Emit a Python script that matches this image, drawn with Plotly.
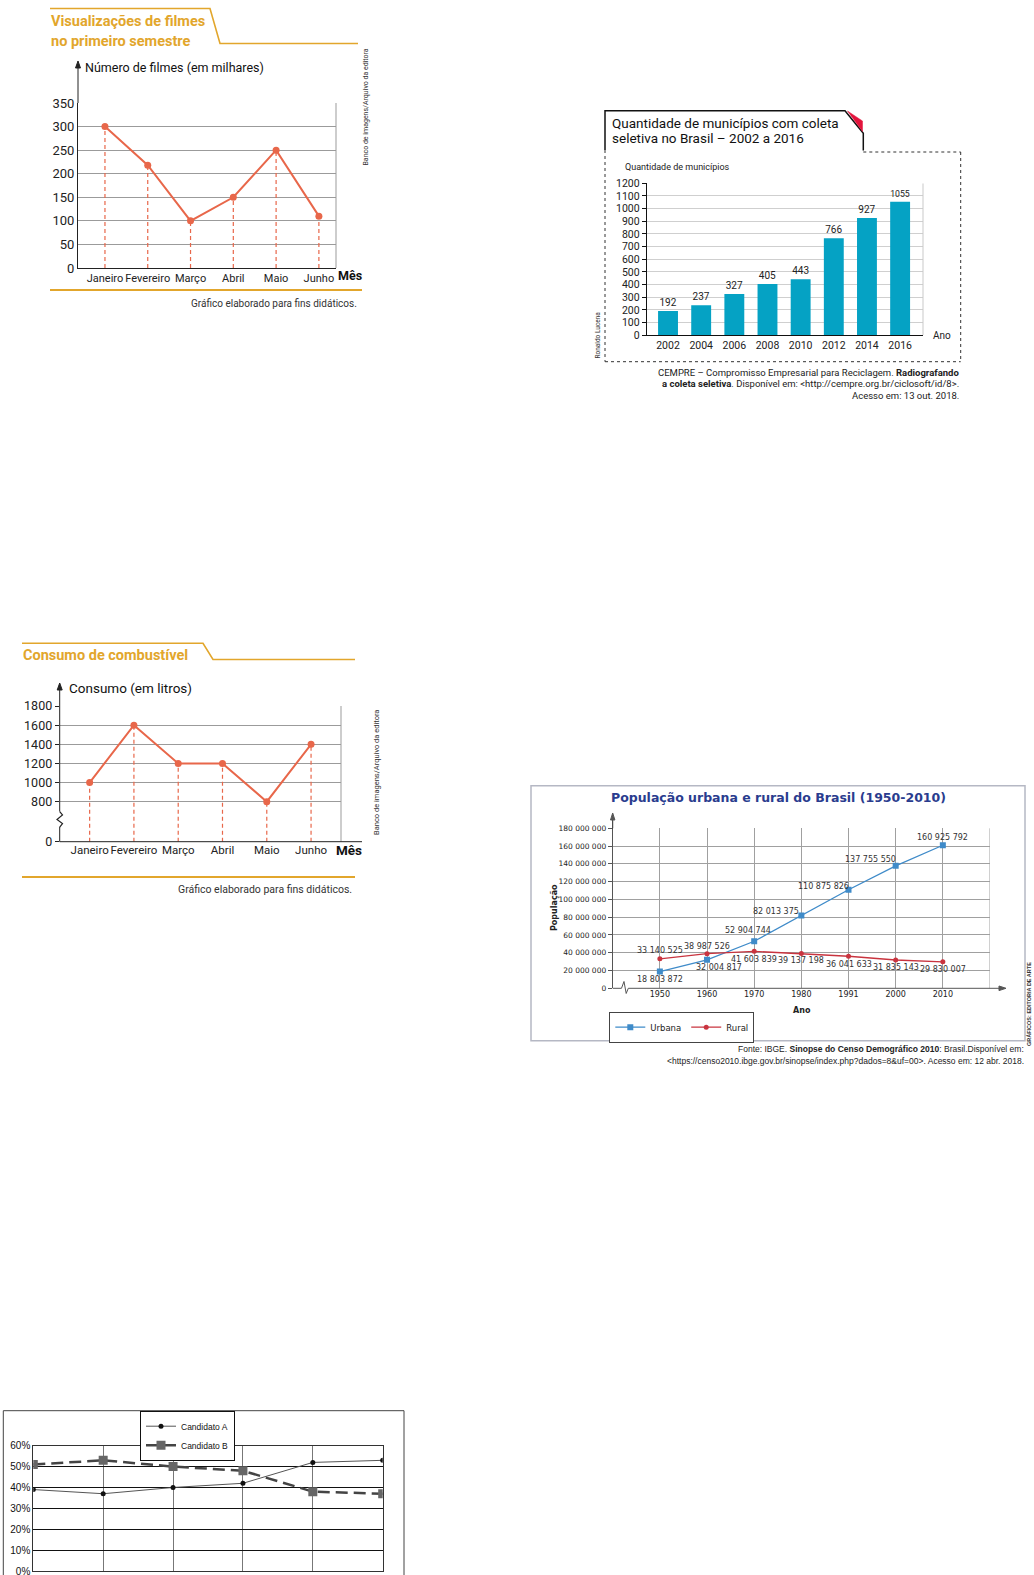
import plotly.graph_objects as go

W, H = 1034, 1575


def fx(px):
    return px / W


def fy(py):
    return 1 - py / H


# ---------------- data ----------------
# Chart 1: Visualizações de filmes no primeiro semestre
meses = ["Janeiro", "Fevereiro", "Março", "Abril", "Maio", "Junho"]
filmes_milhares = [300, 218, 100, 150, 250, 110]

# Chart 2: Quantidade de municípios com coleta seletiva
anos_coleta = ["2002", "2004", "2006", "2008", "2010", "2012", "2014", "2016"]
municipios = [192, 237, 327, 405, 443, 766, 927, 1055]

# Chart 3: Consumo de combustível
consumo_litros = [1000, 1600, 1200, 1200, 800, 1400]
consumo_ticks = [800, 1000, 1200, 1400, 1600, 1800]

# Chart 4: População urbana e rural do Brasil
anos_censo = ["1950", "1960", "1970", "1980", "1991", "2000", "2010"]
pop_urbana = [18803872, 32004817, 52904744, 82013375, 110875826, 137755550, 160925792]
pop_rural = [33140525, 38987526, 41603839, 39137198, 36041633, 31835143, 29830007]

# Chart 5: Candidatos
cand_a = [0.39, 0.37, 0.40, 0.42, 0.52, 0.53]
cand_b = [0.51, 0.53, 0.50, 0.48, 0.38, 0.37]

# ---------------- style ----------------
GOLD = "#E2A62C"
ORANGE = "#E8674A"
TEAL = "#05A2C4"
BLUE = "#3F8BC9"
RED = "#C9343F"
NAVY = "#2A3C8E"
F1 = "Roboto"
F4 = "DejaVu Sans"
F5 = "Liberation Sans"

shapes = []
annotations = []


def pline(x0, y0, x1, y1, color="#222", width=1, dash=None):
    ln = dict(color=color, width=width)
    if dash:
        ln["dash"] = dash
    shapes.append(dict(type="line", xref="paper", yref="paper",
                       x0=fx(x0), y0=fy(y0), x1=fx(x1), y1=fy(y1), line=ln))


def ppath(pts, color="#222", width=1, fill=None, closed=False):
    p = "M " + " L ".join(f"{fx(x):.5f},{fy(y):.5f}" for x, y in pts)
    if closed:
        p += " Z"
    d = dict(type="path", xref="paper", yref="paper", path=p,
             line=dict(color=color, width=width))
    if fill:
        d["fillcolor"] = fill
    shapes.append(d)


def txt(s, x, y, size, color="#222", family=F1, xanchor="center",
        yanchor="middle", angle=0):
    annotations.append(dict(text=s, x=fx(x), y=fy(y), xref="paper", yref="paper",
                            showarrow=False, xanchor=xanchor, yanchor=yanchor,
                            textangle=angle, borderpad=0,
                            font=dict(family=family, size=size, color=color)))


def drops(cats, vals, base):
    xs, ys = [], []
    for c, v in zip(cats, vals):
        xs += [c, c, None]
        ys += [base, v, None]
    return xs, ys


fig = go.Figure()

# ================= Chart 1 =================
dx, dy = drops(meses, filmes_milhares, 0)
fig.add_trace(go.Scatter(x=dx, y=dy, mode="lines", xaxis="x", yaxis="y",
                         line=dict(color=ORANGE, width=1.2, dash="4px,3px"),
                         showlegend=False, hoverinfo="skip"))
fig.add_trace(go.Scatter(x=meses, y=filmes_milhares, mode="lines+markers",
                         xaxis="x", yaxis="y", showlegend=False,
                         line=dict(color=ORANGE, width=2),
                         marker=dict(color=ORANGE, size=7)))
shapes.append(dict(type="line", xref="x domain", yref="y", x0=1, x1=1, y0=0, y1=350,
                   line=dict(color="#9b9b9b", width=1)))
pline(78, 103, 78, 66)
ppath([(78, 61), (75.5, 68), (80.5, 68)], fill="#222", closed=True)
ppath([(50, 8.5), (210, 8.5), (220, 43.5), (358, 43.5)], color=GOLD, width=1.6)
pline(50, 290, 362, 290, color=GOLD, width=2)
txt("<b>Visualizações de filmes</b>", 50, 22, 14.5, GOLD, xanchor="left")
txt("<b>no primeiro semestre</b>", 50, 41.5, 14.5, GOLD, xanchor="left")
txt("Número de filmes (em milhares)", 84, 67, 12.5, "#111", xanchor="left")
txt("<b>Mês</b>", 350, 275, 12.5, "#111")
txt("Gráfico elaborado para fins didáticos.", 358, 303.5, 10, "#333", xanchor="right")
txt("Banco de imagens/Arquivo da editora", 365.5, 107, 7, "#333", angle=-90)

# ================= Chart 2 =================
fig.add_trace(go.Bar(x=anos_coleta, y=municipios, xaxis="x2", yaxis="y2",
                     marker=dict(color=TEAL, line=dict(width=0)), width=0.6,
                     text=[str(v) for v in municipios], textposition="outside",
                     textfont=dict(family=F1, size=10, color="#222"),
                     cliponaxis=False, showlegend=False))
shapes.append(dict(type="line", xref="x2 domain", yref="y2", x0=1, x1=1, y0=0, y1=1200,
                   line=dict(color="#c9c9c9", width=1)))
ppath([(605, 150), (605, 110.7), (845, 110.7), (863.3, 133.3), (863.3, 150.5)],
      color="#111", width=1.5)
ppath([(847.5, 111), (862.5, 121), (862.5, 131.5)], color="#E3143C", width=0.5,
      fill="#E3143C", closed=True)
pline(605, 150, 605, 361.7, color="#333", width=1, dash="dot")
pline(605, 361.7, 960.7, 361.7, color="#333", width=1, dash="dot")
pline(960.7, 152, 960.7, 361.7, color="#333", width=1, dash="dot")
pline(863.3, 152, 960.7, 152, color="#333", width=1, dash="dot")
txt("Quantidade de municípios com coleta", 611, 123, 13.5, "#111", xanchor="left")
txt("seletiva no Brasil – 2002 a 2016", 611, 138, 13.5, "#111", xanchor="left")
txt("Quantidade de municípios", 624, 167.5, 9, "#222", xanchor="left")
txt("Ano", 932, 335, 10, "#222", xanchor="left")
txt("CEMPRE – Compromisso Empresarial para Reciclagem. <b>Radiografando</b>",
    960, 372, 9.5, "#222", xanchor="right")
txt("<b>a coleta seletiva</b>. Disponível em: &lt;http://cempre.org.br/ciclosoft/id/8&gt;.",
    960, 383.5, 9.5, "#222", xanchor="right")
txt("Acesso em: 13 out. 2018.", 960, 395, 9.5, "#222", xanchor="right")
txt("Ronaldo Lucena", 597.5, 335, 6.5, "#333", angle=-90)

# ================= Chart 3 =================
base3 = 382
dx, dy = drops(meses, consumo_litros, base3)
fig.add_trace(go.Scatter(x=dx, y=dy, mode="lines", xaxis="x3", yaxis="y3",
                         line=dict(color=ORANGE, width=1.2, dash="4px,3px"),
                         showlegend=False, hoverinfo="skip"))
fig.add_trace(go.Scatter(x=meses, y=consumo_litros, mode="lines+markers",
                         xaxis="x3", yaxis="y3", showlegend=False,
                         line=dict(color=ORANGE, width=2),
                         marker=dict(color=ORANGE, size=7)))
shapes.append(dict(type="line", xref="x3 domain", yref="y3", x0=1, x1=1, y0=base3, y1=1800,
                   line=dict(color="#9b9b9b", width=1)))
pline(59.7, 841.7, 362, 841.7)
pline(59.7, 841.7, 59.7, 827)
ppath([(59.7, 827), (62.5, 823.5), (57, 819.5), (62.5, 815), (59.7, 811.5)], width=1.2)
pline(59.7, 811.5, 59.7, 688)
ppath([(59.7, 683), (57.2, 690), (62.2, 690)], fill="#222", closed=True)
ppath([(22, 643.3), (203, 643.3), (213, 659.5), (355, 659.5)], color=GOLD, width=1.6)
pline(22, 877, 355, 877, color=GOLD, width=2)
txt("<b>Consumo de combustível</b>", 22, 655, 14.5, GOLD, xanchor="left")
txt("Consumo (em litros)", 68, 688, 13.5, "#111", xanchor="left")
txt("<b>Mês</b>", 349, 850, 13.5, "#111")
txt("Gráfico elaborado para fins didáticos.", 353, 889.5, 10.5, "#333", xanchor="right")
txt("Banco de imagens/Arquivo da editora", 376, 773, 7.5, "#333", angle=-90)

# ================= Chart 4 =================
fig.add_trace(go.Scatter(x=anos_censo, y=pop_urbana, mode="lines+markers",
                         name="Urbana", xaxis="x4", yaxis="y4", legend="legend",
                         line=dict(color=BLUE, width=1.3),
                         marker=dict(symbol="square", size=6, color=BLUE)))
fig.add_trace(go.Scatter(x=anos_censo, y=pop_rural, mode="lines+markers",
                         name="Rural", xaxis="x4", yaxis="y4", legend="legend",
                         line=dict(color=RED, width=1.3),
                         marker=dict(symbol="circle", size=5, color=RED)))
shapes.append(dict(type="line", xref="x4", yref="y4 domain", x0=7, x1=7, y0=0, y1=1,
                   line=dict(color="#a0a0a0", width=1)))
# axes with break and arrows
pline(612.7, 828.3, 612.7, 818)
ppath([(612.7, 813), (610.5, 820), (614.9, 820)], color="#555", fill="#555", closed=True)
pline(612.7, 988.3, 621.5, 988.3, color="#555")
ppath([(621.5, 988.3), (624, 981.5), (626.2, 993.5), (628.3, 988.3)], color="#555", width=1)
pline(628.3, 988.3, 1001, 988.3, color="#555")
ppath([(1006, 988.3), (999, 986), (999, 990.6)], color="#555", fill="#555", closed=True)

fmt = lambda v: f"{v:,}".replace(",", " ")
urb_off = [(0, 8), (12, 8), (-6, -11), (-25, -4), (-25, -3), (-25, -6), (0, -8)]
rur_off = [(0, -8), (0, -7), (0, 8), (0, 7), (0, 8), (0, 7), (0, 8)]
for serie, offs in ((pop_urbana, urb_off), (pop_rural, rur_off)):
    for i, (v, (ox, oy)) in enumerate(zip(serie, offs)):
        annotations.append(dict(text=fmt(v), x=i, y=v, xref="x4", yref="y4",
                                showarrow=False, xshift=ox, yshift=-oy,
                                font=dict(family=F4, size=8, color="#333")))
ppath([(531, 785.7), (1025, 785.7), (1025, 1040.7), (531, 1040.7)], color="#b5b8c4",
      width=1.5, closed=True)
txt("<b>População urbana e rural do Brasil (1950-2010)</b>", 778, 797.5, 12.5, NAVY, family=F4)
txt("<b>População</b>", 554, 908, 8, "#222", family=F4, angle=-90)
txt("<b>Ano</b>", 801.7, 1010, 8, "#222", family=F4)
txt("Fonte: IBGE. <b>Sinopse do Censo Demográfico 2010</b>: Brasil.Disponível em:",
    1024.5, 1049, 8.5, "#222", family=F5, xanchor="right")
txt("&lt;https://censo2010.ibge.gov.br/sinopse/index.php?dados=8&amp;uf=00&gt;. Acesso em: 12 abr. 2018.",
    1024.5, 1060.5, 8.5, "#222", family=F5, xanchor="right")
txt("<b>GRÁFICOS: EDITORIA DE ARTE</b>", 1029, 1004, 5.5, "#333", family=F5, angle=-90)

# ================= Chart 5 =================
idx = list(range(len(cand_a)))
fig.add_trace(go.Scatter(x=idx, y=cand_a, mode="lines+markers", name="Candidato A",
                         xaxis="x5", yaxis="y5", legend="legend2",
                         line=dict(color="#555", width=1),
                         marker=dict(symbol="circle", size=5, color="#111")))
fig.add_trace(go.Scatter(x=idx, y=cand_b, mode="lines+markers", name="Candidato B",
                         xaxis="x5", yaxis="y5", legend="legend2",
                         line=dict(color="#444", width=2.5, dash="12px,6px"),
                         marker=dict(symbol="square", size=9, color="#666")))
ppath([(3.3, 1410.7), (404, 1410.7), (404, 1585), (3.3, 1585)], color="#444", width=1, closed=True)

fig.update_layout(
    width=W, height=H, margin=dict(l=0, r=0, t=0, b=0, pad=0, autoexpand=False),
    paper_bgcolor="white", plot_bgcolor="white", separators=". ",
    font=dict(family=F1, color="#222"),
    xaxis=dict(domain=[fx(78), fx(336)], anchor="y", type="category",
               range=[-0.63, 5.40], showgrid=False, showline=True, linecolor="#222",
               ticks="", tickangle=0, tickfont=dict(family=F1, size=11, color="#222"),
               zeroline=False),
    yaxis=dict(domain=[fy(268), fy(103)], anchor="x", range=[0, 350], dtick=50,
               showgrid=True, gridcolor="#9b9b9b", showline=True, linecolor="#222",
               ticks="", tickfont=dict(family=F1, size=13, color="#222"), zeroline=False),
    xaxis2=dict(domain=[fx(646.7), fx(923)], anchor="y2", type="category",
                range=[-0.643, 7.69], showgrid=False, showline=True, linecolor="#111",
                ticks="", tickangle=0, tickfont=dict(family=F1, size=10.5, color="#222"),
                zeroline=False),
    yaxis2=dict(domain=[fy(335.3), fy(183.3)], anchor="x2", range=[0, 1200], dtick=100,
                showgrid=True, gridcolor="#cfcfcf", showline=True, linecolor="#111",
                ticks="outside", ticklen=4, tickcolor="#111",
                tickfont=dict(family=F1, size=10.5, color="#222"), zeroline=False),
    xaxis3=dict(domain=[fx(59.7), fx(341)], anchor="y3", type="category",
                range=[-0.676, 5.676], showgrid=False, showline=False, ticks="",
                tickangle=0, tickfont=dict(family=F1, size=11.5, color="#222"),
                zeroline=False),
    yaxis3=dict(domain=[fy(841.7), fy(706)], anchor="x3", range=[base3, 1800],
                tickvals=[base3] + consumo_ticks,
                ticktext=["0"] + [str(t) for t in consumo_ticks],
                showgrid=True, gridcolor="#9b9b9b", showline=False,
                ticks="outside", ticklen=4, tickcolor="#222",
                tickfont=dict(family=F1, size=12.5, color="#222"), zeroline=False),
    xaxis4=dict(domain=[fx(612.7), fx(990)], anchor="y4", type="category",
                range=[-1, 7], showgrid=True, gridcolor="#a0a0a0", showline=False,
                ticks="", tickangle=0, tickfont=dict(family=F4, size=8, color="#222"),
                zeroline=False),
    yaxis4=dict(domain=[fy(988.3), fy(828.3)], anchor="x4", range=[0, 180e6], dtick=20e6,
                tickformat=",d", showgrid=True, gridcolor="#a0a0a0", showline=True,
                linecolor="#555", ticks="outside", ticklen=4, tickcolor="#555",
                tickfont=dict(family=F4, size=7.5, color="#222"), zeroline=False),
    xaxis5=dict(domain=[fx(33.3), fx(382.7)], anchor="y5", range=[0, 5], dtick=1,
                showgrid=True, gridcolor="#777", showline=True, mirror=True,
                linecolor="#333", showticklabels=False, ticks="", zeroline=False),
    yaxis5=dict(domain=[fy(1571), fy(1445.7)], anchor="x5", range=[0, 0.6], dtick=0.1,
                tickformat=".0%", showgrid=True, gridcolor="#111", showline=True,
                mirror=True, linecolor="#333", ticks="", ticklabeloverflow="allow",
                tickfont=dict(family=F5, size=10, color="#111"), zeroline=False),
    legend=dict(x=fx(609.3), y=fy(1011.7), xanchor="left", yanchor="top",
                orientation="h", bgcolor="white", bordercolor="#444", borderwidth=1,
                font=dict(family=F4, size=8.5, color="#222"), itemwidth=30,
                tracegroupgap=0),
    legend2=dict(x=fx(140), y=fy(1410.7), xanchor="left", yanchor="top",
                 orientation="v", bgcolor="white", bordercolor="#111", borderwidth=1,
                 font=dict(family=F5, size=8.5, color="#111"), itemwidth=30,
                 tracegroupgap=0),
    shapes=shapes,
    annotations=annotations,
)

fig.write_html("out.html")
